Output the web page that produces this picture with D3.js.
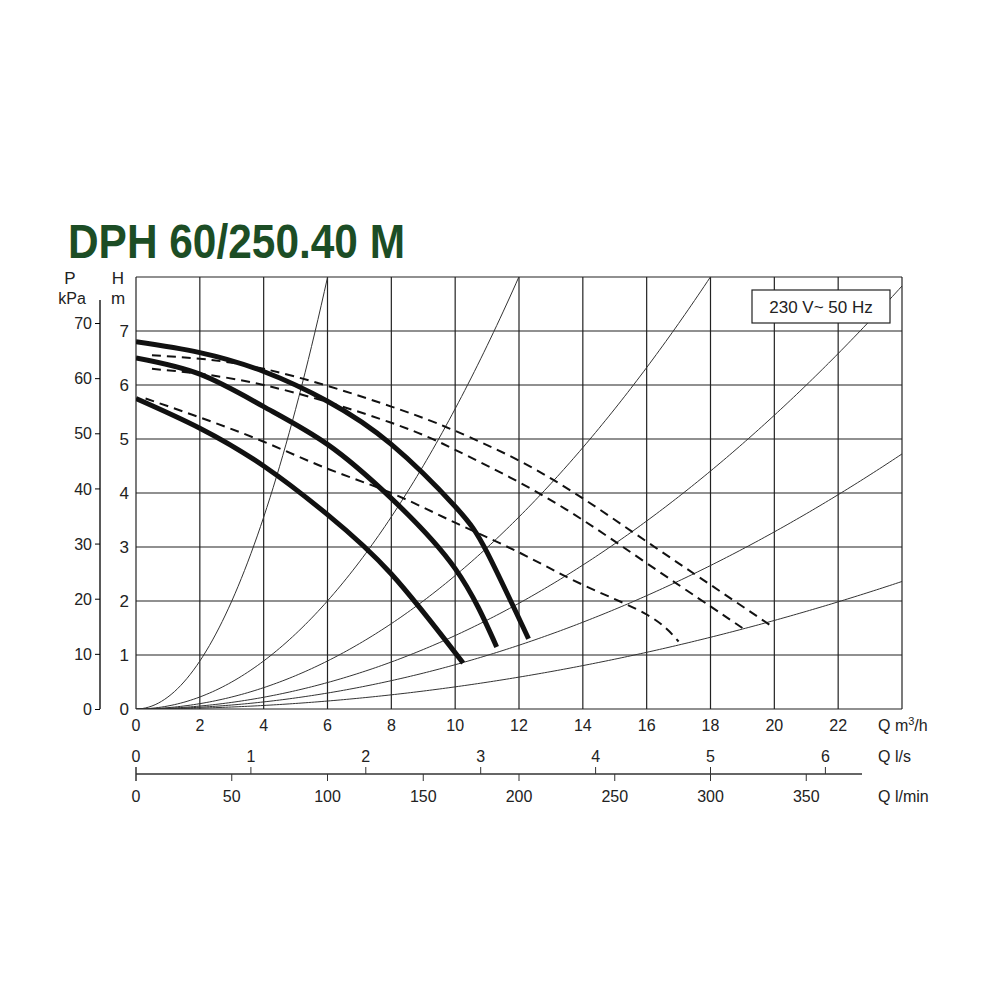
<!DOCTYPE html>
<html><head><meta charset="utf-8">
<script src="https://cdn.jsdelivr.net/npm/d3@7"></script>
<style>body{margin:0;background:#fff}text{font-family:"Liberation Sans",Arial,sans-serif;fill:#222}</style>
</head><body>
<svg id="c" width="1000" height="1000"></svg>
<script>
// pump curves, Q m3/h vs H m
var curveA = [[0,6.8],[2,6.6],[4,6.25],[6,5.7],[8,4.9],[10,3.75],[11,2.9],[12.3,1.3]];
var curveB = [[0,6.5],[2,6.2],[4,5.6],[6,4.9],[8,3.9],[10,2.6],[11.3,1.15]];
var curveC = [[0,5.75],[2,5.2],[4,4.5],[6,3.6],[8,2.5],[10.25,0.85]];
var dash1 = [[0.5,6.55],[4,6.3],[8,5.6],[10,5.15],[12,4.6],[14,3.9],[16,3.1],[18,2.3],[20,1.5]];
var dash2 = [[0.5,6.3],[4,6.0],[8,5.3],[10,4.8],[12,4.2],[14,3.5],[16,2.7],[18,1.9],[19,1.5]];
var dash3 = [[0.3,5.75],[2,5.4],[4,4.95],[6,4.45],[8,4.0],[10,3.45],[12,2.9],[14,2.3],[16,1.75],[17,1.25]];
// system curves H = k*Q^2
var systemK = [0.222, 0.0556, 0.0247, 0.0136, 0.0082, 0.0041];
var qTicks = [0,2,4,6,8,10,12,14,16,18,20,22];
var hTicks = [0,1,2,3,4,5,6,7];
var pTicks = [0,10,20,30,40,50,60,70];
var lsTicks = [0,1,2,3,4,5,6];
var lminTicks = [0,50,100,150,200,250,300,350];

var svg = d3.select("#c");
var x = d3.scaleLinear().domain([0,24]).range([136,902]);
var y = d3.scaleLinear().domain([0,8]).range([709,277]);
var yP = d3.scaleLinear().domain([0,70]).range([709,323]);

svg.append("text").attr("x",68).attr("y",258).text("DPH 60/250.40 M")
  .attr("textLength",337).attr("lengthAdjust","spacingAndGlyphs")
  .style("font-weight","bold").style("font-size","48px").style("fill","#1c4d25");

var g = svg.append("g");
// grid
g.selectAll(".v").data(d3.range(0,26,2)).enter().append("line")
  .attr("x1",d=>x(d)).attr("x2",d=>x(d)).attr("y1",y(0)).attr("y2",y(8))
  .attr("stroke","#222").attr("stroke-width",1.2);
g.selectAll(".h").data(d3.range(0,9)).enter().append("line")
  .attr("x1",x(0)).attr("x2",x(24)).attr("y1",d=>y(d)).attr("y2",d=>y(d))
  .attr("stroke","#222").attr("stroke-width",1.2);

// clip
svg.append("clipPath").attr("id","cl").append("rect")
  .attr("x",x(0)).attr("y",y(8)).attr("width",x(24)-x(0)).attr("height",y(0)-y(8));
var pl = svg.append("g").attr("clip-path","url(#cl)");
systemK.forEach(function(k){
  var pts = d3.range(0,24.01,0.1).map(q=>[q,k*q*q]);
  pl.append("path").attr("d",d3.line().x(d=>x(d[0])).y(d=>y(d[1]))(pts))
    .attr("fill","none").attr("stroke","#333").attr("stroke-width",1);
});
var line = d3.line().x(d=>x(d[0])).y(d=>y(d[1])).curve(d3.curveNatural);
[dash1,dash2,dash3].forEach(function(c){
  pl.append("path").attr("d",line(c)).attr("fill","none").attr("stroke","#111")
    .attr("stroke-width",2).attr("stroke-dasharray","9,6");
});
[curveA,curveB,curveC].forEach(function(c){
  pl.append("path").attr("d",line(c)).attr("fill","none").attr("stroke","#111")
    .attr("stroke-width",5);
});

// H axis labels
svg.selectAll(".hl").data(hTicks).enter().append("text")
  .attr("x",129).attr("y",d=>y(d)+6).attr("text-anchor","end").style("font-size","17px").text(d=>d);
svg.append("text").attr("x",118).attr("y",284).attr("text-anchor","middle").style("font-size","17px").text("H");
svg.append("text").attr("x",118).attr("y",304).attr("text-anchor","middle").style("font-size","17px").text("m");

// P axis
var pAx = svg.append("g").attr("transform","translate(100,0)")
  .call(d3.axisLeft(yP).tickValues(pTicks).tickSize(5).tickSizeOuter(0));
pAx.select(".domain").attr("d","M0,300V709").attr("stroke","#222").attr("stroke-width",1.5);
pAx.selectAll("text").style("font-size","16px").attr("dy","0.35em");
svg.append("text").attr("x",70).attr("y",284).attr("text-anchor","middle").style("font-size","17px").text("P");
svg.append("text").attr("x",72).attr("y",304).attr("text-anchor","middle").style("font-size","16px").text("kPa");

// Q m3/h labels
svg.selectAll(".ql").data(qTicks).enter().append("text")
  .attr("x",d=>x(d)).attr("y",731).attr("text-anchor","middle").style("font-size","16px").text(d=>d);
svg.append("text").attr("x",878).attr("y",731).style("font-size","16px").html("Q m<tspan dy='-6' font-size='11'>3</tspan><tspan dy='6'>/h</tspan>");

// l/s and l/min axis
var ax2y = 774;
svg.append("line").attr("x1",x(0)).attr("x2",x(24)-40).attr("y1",ax2y).attr("y2",ax2y).attr("stroke","#333").attr("stroke-width",1.3);
svg.selectAll(".ls").data(lsTicks).enter().append("line")
  .attr("x1",d=>x(d*3.6)).attr("x2",d=>x(d*3.6)).attr("y1",ax2y-7).attr("y2",ax2y).attr("stroke","#333");
svg.selectAll(".lst").data(lsTicks).enter().append("text")
  .attr("x",d=>x(d*3.6)).attr("y",ax2y-12).attr("text-anchor","middle").style("font-size","16px").text(d=>d);
svg.selectAll(".lm").data(lminTicks).enter().append("line")
  .attr("x1",d=>x(d*0.06)).attr("x2",d=>x(d*0.06)).attr("y1",ax2y).attr("y2",ax2y+7).attr("stroke","#333");
svg.selectAll(".lmt").data(lminTicks).enter().append("text")
  .attr("x",d=>x(d*0.06)).attr("y",ax2y+28).attr("text-anchor","middle").style("font-size","16px").text(d=>d);
svg.append("line").attr("x1",x(0)).attr("x2",x(0)).attr("y1",ax2y-7).attr("y2",ax2y+7).attr("stroke","#333");
svg.append("text").attr("x",878).attr("y",ax2y-12).style("font-size","16px").text("Q l/s");
svg.append("text").attr("x",878).attr("y",ax2y+28).style("font-size","16px").text("Q l/min");

// voltage box
svg.append("rect").attr("x",752).attr("y",290).attr("width",138).attr("height",33)
  .attr("fill","#fff").attr("stroke","#222").attr("stroke-width",1.2);
svg.append("text").attr("x",821).attr("y",313).attr("text-anchor","middle").style("font-size","17px").text("230 V~ 50 Hz");
</script>
</body></html>
